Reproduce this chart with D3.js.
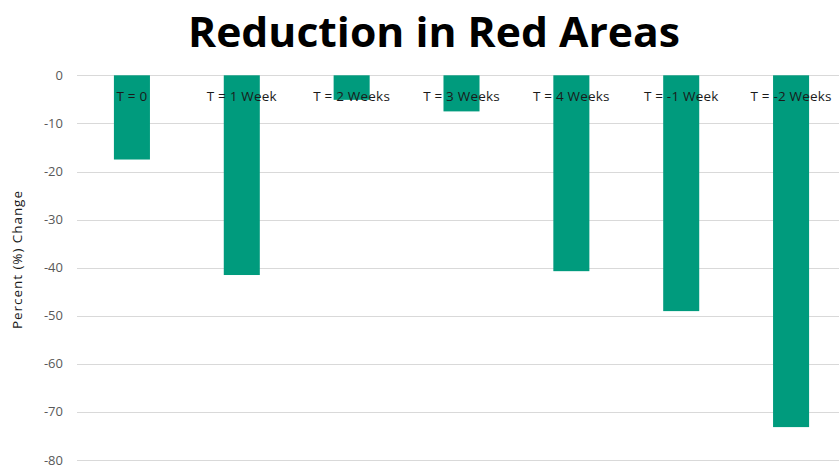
<!DOCTYPE html>
<html><head><meta charset="utf-8">
<script src="https://cdn.jsdelivr.net/npm/d3@7"></script>
<style>body{margin:0;background:#fff;overflow:hidden}</style>
</head><body>
<svg id="c" width="839" height="467"></svg>
<script>
const categories = ["T = 0","T = 1 Week","T = 2 Weeks","T = 3 Weeks","T = 4 Weeks","T = -1 Week","T = -2 Weeks"];
const values = [-17.5, -41.5, -5.1, -7.5, -40.7, -49.0, -73.1];
const yTicks = [0,-10,-20,-30,-40,-50,-60,-70,-80];
const title = "Reduction in Red Areas";
const yTitle = "Percent (%) Change";

const svg = d3.select("#c");
const x = d3.scaleBand().domain(categories).range([77, 846]).paddingInner(0.672).paddingOuter(0.336);
const y = d3.scaleLinear().domain([0, -80]).range([75.3, 460.3]);

svg.append("g").selectAll("line").data(yTicks).join("line")
  .attr("x1", 77).attr("x2", 839)
  .attr("y1", d => Math.round(y(d)) + 0.5).attr("y2", d => Math.round(y(d)) + 0.5)
  .attr("stroke", "#d9d9d9").attr("stroke-width", 1);

svg.append("g").selectAll("text").data(yTicks).join("text")
  .attr("x", 63).attr("y", d => y(d)).attr("dy", "0.33em")
  .attr("text-anchor", "end").attr("fill", "#595959")
  .style("font-family", "'Open Sans', sans-serif").style("font-size", "13px")
  .text(d => d);

svg.append("g").selectAll("rect").data(values).join("rect")
  .attr("x", (d,i) => x(categories[i])).attr("width", x.bandwidth())
  .attr("y", d => y(0)).attr("height", d => y(d) - y(0))
  .attr("fill", "#009b7d");

svg.append("g").selectAll("text").data(categories).join("text")
  .attr("x", d => x(d) + x.bandwidth()/2).attr("y", 96).attr("dy", "0.35em")
  .attr("text-anchor", "middle").attr("fill", "#1a1a1a")
  .style("font-family", "'Open Sans', sans-serif").style("font-size", "13.5px")
  .style("letter-spacing", "0.2px")
  .text(d => d);

svg.append("text")
  .attr("transform", "translate(22,260) rotate(-90)")
  .attr("text-anchor", "middle").attr("fill", "#1a1a1a")
  .style("font-family", "'Open Sans', sans-serif").style("font-size", "13.5px")
  .attr("textLength", 138).attr("lengthAdjust", "spacing")
  .text(yTitle);

svg.append("text")
  .attr("x", 434).attr("y", 47).attr("text-anchor", "middle")
  .attr("fill", "#000")
  .style("font-family", "'Open Sans', sans-serif").style("font-weight", "700").style("font-size", "42px")
  .attr("textLength", 492).attr("lengthAdjust", "spacingAndGlyphs")
  .text(title);
</script>
</body></html>
